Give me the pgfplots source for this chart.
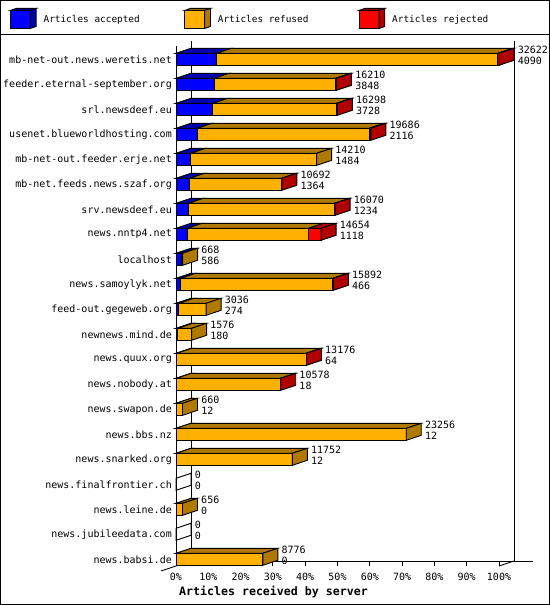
\documentclass[border=0pt]{standalone}
\usepackage{pgfplots}
\pgfplotsset{compat=1.18}
\usepackage{pgfplotstable}
\usepackage{fontspec}
\setmainfont{DejaVu Sans Mono}
\newcommand\labfont{\fontsize{10bp}{10.5bp}\selectfont}
\newcommand\legfont{\fontsize{9.4bp}{10bp}\selectfont}
\newcommand\bfont{\fontsize{11.6bp}{12bp}\selectfont\bfseries}

\definecolor{accF}{RGB}{0,0,255}
\definecolor{accT}{RGB}{0,0,176}
\definecolor{refF}{RGB}{255,176,0}
\definecolor{refT}{RGB}{176,122,0}
\definecolor{rejF}{RGB}{255,0,0}
\definecolor{rejT}{RGB}{176,0,0}

% accepted, refused, rejected, total (articles offered)
\pgfplotstableread{
acc ref rej tot
4090 28412 120 32622
3848 12272 90 16210
3728 12480 90 16298
2116 17400 170 19686
1484 12726 0 14210
1364 9278 50 10692
1234 14786 50 16070
1118 12276 1260 14654
586 82 0 668
466 15376 50 15892
274 2762 0 3036
180 1396 0 1576
64 13072 40 13176
18 10530 30 10578
12 648 0 660
12 23244 0 23256
12 11740 0 11752
0 0 0 0
0 656 0 656
0 0 0 0
0 8776 0 8776
}\servers

\newcommand\maxT{32622}
\newcommand\dX{4.644}
\newcommand\dY{0.2}

\newcommand\seg[4]{%
  \ifnum\fpeval{#2>#1}=1
    \edef\tmp{\noexpand\addplot[forget plot, draw=black, fill=#3, line width=0.9bp, line join=miter]
      coordinates {(#1,\yF) (#2,\yF) (#2,\yB) (#1,\yB)} -- cycle;}\tmp
    \edef\tmp{\noexpand\addplot[forget plot, draw=black, fill=#4, line width=0.9bp, line join=miter]
      coordinates {(#1,\yF) (#2,\yF) (\fpeval{#2+\dX},\yK) (\fpeval{#1+\dX},\yK)} -- cycle;}\tmp
  \fi}

\newcommand\legcube[2]{%
  \draw[fill=#1, line width=0.9bp] (0bp,-9bp) rectangle (20bp,9bp);
  \draw[fill=#2, line width=0.9bp] (0bp,9bp) -- (20bp,9bp) -- (25.7bp,11bp) -- (5.7bp,11bp) -- cycle;
  \draw[fill=#2, line width=0.9bp] (20bp,-9bp) -- (25.7bp,-7bp) -- (25.7bp,11bp) -- (20bp,9bp) -- cycle;}

\begin{document}
\begin{tikzpicture}
\begin{axis}[
  at={(176bp,39bp)}, anchor=south west,
  width=323bp, height=520bp, scale only axis,
  xmin=0, xmax=100, ymin=-0.532, ymax=20.268, y dir=reverse,
  clip=false,
  axis line style={draw=none},
  major tick length=0pt,
  xtick={0,10,...,100},
  xticklabels={0\%,10\%,20\%,30\%,40\%,50\%,60\%,70\%,80\%,90\%,100\%},
  ytick={0,...,20},
  yticklabels={mb-net-out.news.weretis.net,feeder.eternal-september.org,srl.newsdeef.eu,usenet.blueworldhosting.com,mb-net-out.feeder.erje.net,mb-net.feeds.news.szaf.org,srv.newsdeef.eu,news.nntp4.net,localhost,news.samoylyk.net,feed-out.gegeweb.org,newnews.mind.de,news.quux.org,news.nobody.at,news.swapon.de,news.bbs.nz,news.snarked.org,news.finalfrontier.ch,news.leine.de,news.jubileedata.com,news.babsi.de},
  tick label style={font=\labfont, inner sep=0pt},
  xticklabel style={yshift=-7bp},
  yticklabel style={xshift=-4bp},
  xlabel={Articles received by server},
  xlabel style={font=\bfont, at={(axis description cs:0,0)}, anchor=west, xshift=3bp, yshift=-26bp, inner sep=0pt},
  legend columns=3,
  legend style={at={(axis description cs:-0.5139,1.0731)}, anchor=north west, draw=none, fill=none,
    inner sep=0pt, outer sep=0pt, font=\legfont,
    nodes={inner sep=0pt},
    /tikz/every odd column/.style={column sep=7bp}},
  legend cell align=left,
]
% legend
\addlegendimage{legend image code/.code={\legcube{accF}{accT}}}
\addlegendentry{\makebox[140.7bp][l]{Articles accepted}}
\addlegendimage{legend image code/.code={\legcube{refF}{refT}}}
\addlegendentry{\makebox[140.7bp][l]{Articles refused}}
\addlegendimage{legend image code/.code={\legcube{rejF}{rejT}}}
\addlegendentry{Articles rejected}

% frame
\draw[line width=0.9bp] (axis cs:0,-0.532) -- (axis cs:0,20.268);
\draw[line width=0.9bp] (axis cs:\dX,-0.732) -- (axis cs:\dX,20.068);
\draw[line width=0.9bp] (axis cs:100+\dX,-0.732) -- (axis cs:100+\dX,20.068);
\draw[line width=0.9bp] (axis cs:\dX,20.068) -- (axis cs:110.5,20.068);
\draw[line width=0.9bp] (axis cs:-\dX,20.468) -- (axis cs:\dX,20.068);
\draw[line width=0.9bp] (axis cs:100,20.268) -- (axis cs:100+\dX,20.068);
\pgfplotsinvokeforeach{0,10,...,100}{\draw[line width=0.9bp] (axis cs:#1,20.268) -- (axis cs:#1,20.068);}

% bars
\pgfplotsforeachungrouped \i in {0,...,20}{%
  \pgfplotstablegetelem{\i}{acc}\of\servers \let\vA\pgfplotsretval
  \pgfplotstablegetelem{\i}{ref}\of\servers \let\vR\pgfplotsretval
  \pgfplotstablegetelem{\i}{rej}\of\servers \let\vJ\pgfplotsretval
  \pgfplotstablegetelem{\i}{tot}\of\servers \let\vT\pgfplotsretval
  \edef\xa{\fpeval{round(\vA*100/\maxT,4)}}%
  \edef\xb{\fpeval{round((\vA+\vR)*100/\maxT,4)}}%
  \edef\xc{\fpeval{round((\vA+\vR+\vJ)*100/\maxT,4)}}%
  \edef\yF{\fpeval{\i-0.24}}%
  \edef\yB{\fpeval{\i+0.24}}%
  \edef\yK{\fpeval{\i-0.24-\dY}}%
  \edef\yL{\fpeval{\i+0.24-\dY}}%
  \seg{0}{\xa}{accF}{accT}%
  \seg{\xa}{\xb}{refF}{refT}%
  \seg{\xb}{\xc}{rejF}{rejT}%
  \ifnum\fpeval{\vJ>0}=1 \def\sidecol{rejT}\else
    \ifnum\fpeval{\vR>0}=1 \def\sidecol{refT}\else
      \ifnum\fpeval{\vA>0}=1 \def\sidecol{accT}\else \def\sidecol{none}\fi\fi\fi
  \edef\tmp{\noexpand\addplot[forget plot, draw=black, fill=\sidecol, line width=0.9bp, line join=miter]
    coordinates {(\xc,\yF) (\fpeval{\xc+\dX},\yK) (\fpeval{\xc+\dX},\yL) (\xc,\yB)} -- cycle;}\tmp
  \edef\tmp{\noexpand\node[anchor=west, align=left, inner sep=0pt, font=\noexpand\labfont]
    at (axis cs:\fpeval{\xc+\dX+1.1},\fpeval{\i-0.16}) {\vT\noexpand\\\vA};}\tmp
}
\end{axis}
\draw[line width=1bp] (0bp,570bp) -- (550bp,570bp);
\draw[line width=1bp] (0.5bp,0.5bp) rectangle (549.5bp,604.5bp);
\pgfresetboundingbox
\path (0bp,0bp) rectangle (550bp,605bp);
\end{tikzpicture}
\end{document}
